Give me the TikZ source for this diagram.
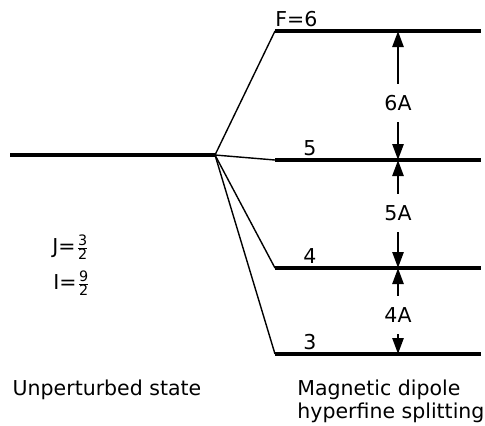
\documentclass[tikz,border=0pt]{standalone}
\usepackage{amsmath}
\usepackage{fontspec}
\setmainfont{DejaVu Sans}
\usetikzlibrary{arrows.meta, positioning}
\tikzset{
  levelline/.style={line width=2pt, black},
  splitline/.style={line width=0.7pt, black},
  gaparrow/.style={-{Triangle[length=8pt, width=5.5pt]}, line width=1.3pt, black},
  gaplabel/.style={minimum height=19pt, inner sep=0pt},
  levellabel/.style={anchor=base, inner sep=0pt}
}

\begin{document}
\begin{tikzpicture}[x=0.5pt, y=-0.5pt, font=\fontsize{10.25}{11.5}\selectfont]
    \useasboundingbox (0,0) rectangle (485,425);

    % --- UNPERTURBED LEVEL ---
    \coordinate (u0) at (10,155);
    \coordinate (u1) at (215,155);
    \draw[levelline] (u0) -- (u1);

    % --- SPLIT LEVELS (F = 6, 5, 4, 3) ---
    \foreach \f/\y in {6/31, 5/160, 4/268, 3/354} {
        \coordinate (s\f) at (275,\y);
        \coordinate (e\f) at (481,\y);
        \coordinate (m\f) at (398,\y);
        \draw[levelline] (s\f) -- (e\f);
        \draw[splitline] (u1) -- (s\f);
    }
    \node[levellabel, anchor=base west] (lab6) at (275,26) {F=6};
    \node[levellabel] (lab5) at (310,155) {5};
    \node[levellabel] (lab4) at (310,263) {4};
    \node[levellabel] (lab3) at (310,349) {3};

    % --- INTERVALS ---
    \node[gaplabel] (g6) at (398,103) {6A};
    \node[gaplabel] (g5) at (398,213) {5A};
    \node[gaplabel] (g4) at (398,315) {4A};
    \draw[gaparrow] (g6.north) -- (m6);
    \draw[gaparrow] (g6.south) -- (m5);
    \draw[gaparrow] (g5.north) -- (m5);
    \draw[gaparrow] (g5.south) -- (m4);
    \draw[gaparrow] (g4.north) -- (m4);
    \draw[gaparrow] (g4.south) -- (m3);

    % --- QUANTUM NUMBERS ---
    \node[anchor=base west, inner sep=0pt] (jnum) at (52,253) {J=$\frac{\text{3}}{\text{2}}$};
    \node[anchor=base west, inner sep=0pt] (inum) at (53,289) {I=$\frac{\text{9}}{\text{2}}$};

    % --- CAPTIONS ---
    \node[anchor=base, inner sep=0pt] (capl) at (107,395) {Unperturbed state};
    \node[anchor=north west, inner sep=0pt, align=left] (capr) at (297,380) {Magnetic dipole\\hyperfine splitting};
\end{tikzpicture}
\end{document}
